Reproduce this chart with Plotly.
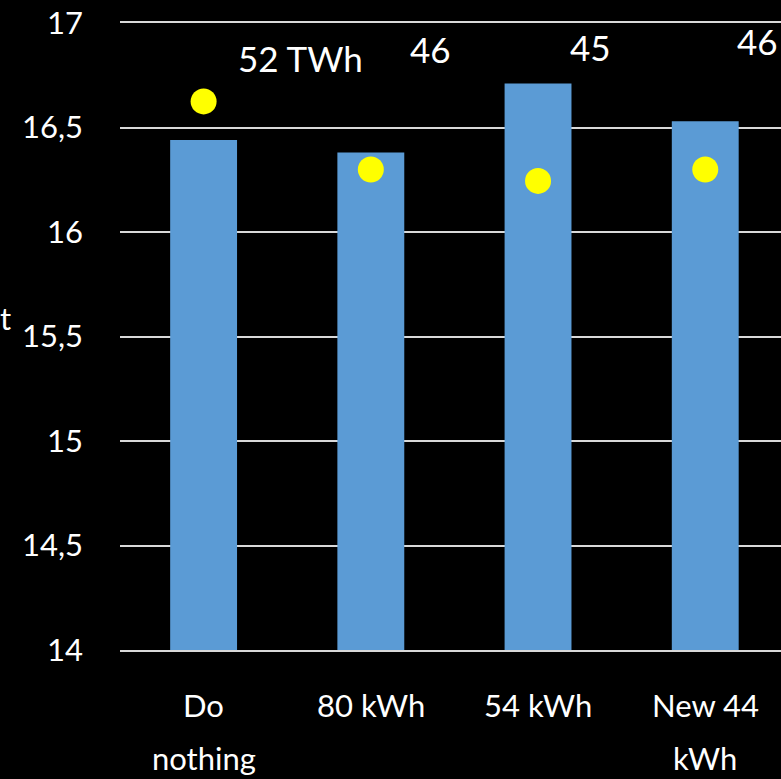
import plotly.graph_objects as go

# Scenario categories (line breaks as wrapped on the axis)
categories = ["Do\nnothing", "80 kWh", "54 kWh", "New 44\nkWh"]
# Bar series (left axis)
bar_values = [16.44, 16.38, 16.71, 16.53]
# Energy series in TWh (secondary axis, shown as dots)
energy_twh = [52, 46, 45, 46]
# Left axis ticks
y_ticks = [14, 14.5, 15, 15.5, 16, 16.5, 17]

FONT = "Lato"
FS = 31
LABEL_FS = 35
GRID = "#d9d9d9"
x_idx = list(range(len(categories)))

fig = go.Figure()
fig.add_trace(go.Bar(
    x=x_idx, y=bar_values, width=0.40,
    marker=dict(color="#5b9bd5", line=dict(width=0)),
    showlegend=False,
))
fig.add_trace(go.Scatter(
    x=x_idx, y=energy_twh, yaxis="y2", mode="markers",
    marker=dict(color="#ffff00", size=26, line=dict(width=0)),
    showlegend=False, cliponaxis=False,
))

# value labels for the dots, offset up and to the right
label_shift = [(97, -43), (60, -121), (52, -134), (52, -129)]
annotations = []
for i, v in enumerate(energy_twh):
    txt = f"{v} TWh" if i == 0 else f"{v}"
    dx, dy = label_shift[i]
    annotations.append(dict(
        x=i, y=v, xref="x", yref="y2", text=txt, showarrow=False,
        xshift=dx, yshift=-dy, xanchor="center", yanchor="middle",
        font=dict(family=FONT, size=LABEL_FS, color="white"),
    ))

# category labels under the axis, one annotation per line
for i, cat in enumerate(categories):
    for k, line in enumerate(cat.split("\n")):
        annotations.append(dict(
            x=i, y=0, xref="x", yref="paper", text=line, showarrow=False,
            xanchor="center", yanchor="middle", yshift=-(55 + 53 * k),
            font=dict(family=FONT, size=FS, color="white"),
        ))

# tail of the left-hand axis caption
annotations.append(dict(
    x=-120 / 661, y=0.53, xref="paper", yref="paper", text="t", showarrow=False,
    xanchor="left", yanchor="middle", xshift=-2,
    font=dict(family=FONT, size=FS, color="white"),
))

fig.update_layout(
    width=781, height=779,
    margin=dict(l=120, r=0, t=23, b=129, pad=0),
    paper_bgcolor="black", plot_bgcolor="black",
    separators=", ",
    font=dict(family=FONT, size=FS, color="white"),
    xaxis=dict(range=[-0.5, 3.453], showticklabels=False, showgrid=False,
               zeroline=False, showline=True, mirror=True, linecolor=GRID,
               linewidth=2, ticks=""),
    yaxis=dict(range=[14, 17], tickvals=y_ticks, showgrid=True,
               gridcolor=GRID, gridwidth=2, zeroline=False,
               showline=False, ticks="", ticklabelstandoff=36,
               tickfont=dict(family=FONT, size=FS, color="white")),
    yaxis2=dict(range=[3.7, 58.9], overlaying="y", side="right",
                visible=False, showgrid=False, zeroline=False),
    annotations=annotations,
)

fig.write_html("out.html")
